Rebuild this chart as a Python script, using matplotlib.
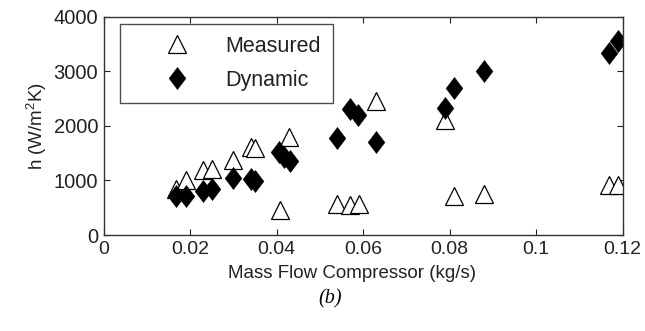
import matplotlib
matplotlib.use('Agg')
import matplotlib.pyplot as plt

plt.rcParams['font.family'] = ['Liberation Sans', 'DejaVu Sans']
plt.rcParams['mathtext.default'] = 'regular'

# measured heat transfer coefficient
meas_x = [0.0167, 0.0190, 0.0229, 0.0250, 0.0300, 0.0341, 0.0350, 0.0429,
          0.0408, 0.0539, 0.0569, 0.0590, 0.0630, 0.0789, 0.0809, 0.0879,
          0.1168, 0.1190]
meas_h = [850, 1000, 1200, 1210, 1370, 1620, 1600, 1800,
          460, 570, 550, 560, 2450, 2100, 710, 745,
          920, 920]

# dynamic model
dyn_x = [0.0167, 0.0190, 0.0229, 0.0251, 0.0300, 0.0341, 0.0350, 0.0406,
         0.0418, 0.0431, 0.0539, 0.0570, 0.0589, 0.0630, 0.0790, 0.0810,
         0.0879, 0.1169, 0.1190]
dyn_h = [720, 710, 800, 840, 1040, 1020, 990, 1520,
         1430, 1350, 1780, 2300, 2200, 1700, 2320, 2690,
         3000, 3340, 3560]

xticks = [0, 0.02, 0.04, 0.06, 0.08, 0.1, 0.12]
xticklabels = ['0', '0.02', '0.04', '0.06', '0.08', '0.1', '0.12']
yticks = [0, 1000, 2000, 3000, 4000]

# matlab-like diamond, a bit narrower than tall
diamond = [(0, 1), (0.76, 0), (0, -1), (-0.76, 0), (0, 1)]

fig = plt.figure(figsize=(6.45, 3.31), dpi=100)
ax = fig.add_axes([0.1608, 0.290, 0.8046, 0.6595])

ax.plot(meas_x, meas_h, linestyle='none', marker='^', ms=13,
        mfc='white', mec='black', mew=0.9, label='Measured')
ax.plot(dyn_x, dyn_h, linestyle='none', marker=diamond, ms=16,
        mfc='black', mec='black', mew=0.3, label='Dynamic')

ax.set_xlim(0, 0.12)
ax.set_ylim(0, 4000)
ax.set_xticks(xticks)
ax.set_xticklabels(xticklabels)
ax.set_yticks(yticks)
ax.tick_params(direction='in', top=True, right=True, length=4,
               colors='#222', pad=4)
ax.tick_params(axis='x', labelsize=14)
ax.tick_params(axis='y', labelsize=14.5)
for sp in ax.spines.values():
    sp.set_color('#333')
    sp.set_linewidth(1)

ax.set_ylabel('h (W/m$^2$K)', fontsize=13.5, color='#222', labelpad=3)
fig.text(352 / 645, 1 - 273 / 331, 'Mass Flow Compressor (kg/s)',
         fontsize=13.5, color='#222', ha='center', va='center')
fig.text(330 / 645, 1 - 299 / 331, '(b)', fontsize=14.5, style='italic',
         family=['Liberation Serif'], ha='center', va='center')

leg = ax.legend(loc='upper left', bbox_to_anchor=(0.0314, 0.9666),
                borderaxespad=0, fancybox=False, fontsize=15.5,
                handlelength=4.2, handletextpad=0.16, borderpad=0.55,
                labelspacing=0.6, numpoints=1)
leg.get_frame().set_edgecolor('#222')
leg.get_frame().set_linewidth(1)
for t in leg.get_texts():
    t.set_color('#222')

fig.savefig('out.png', dpi=100)
